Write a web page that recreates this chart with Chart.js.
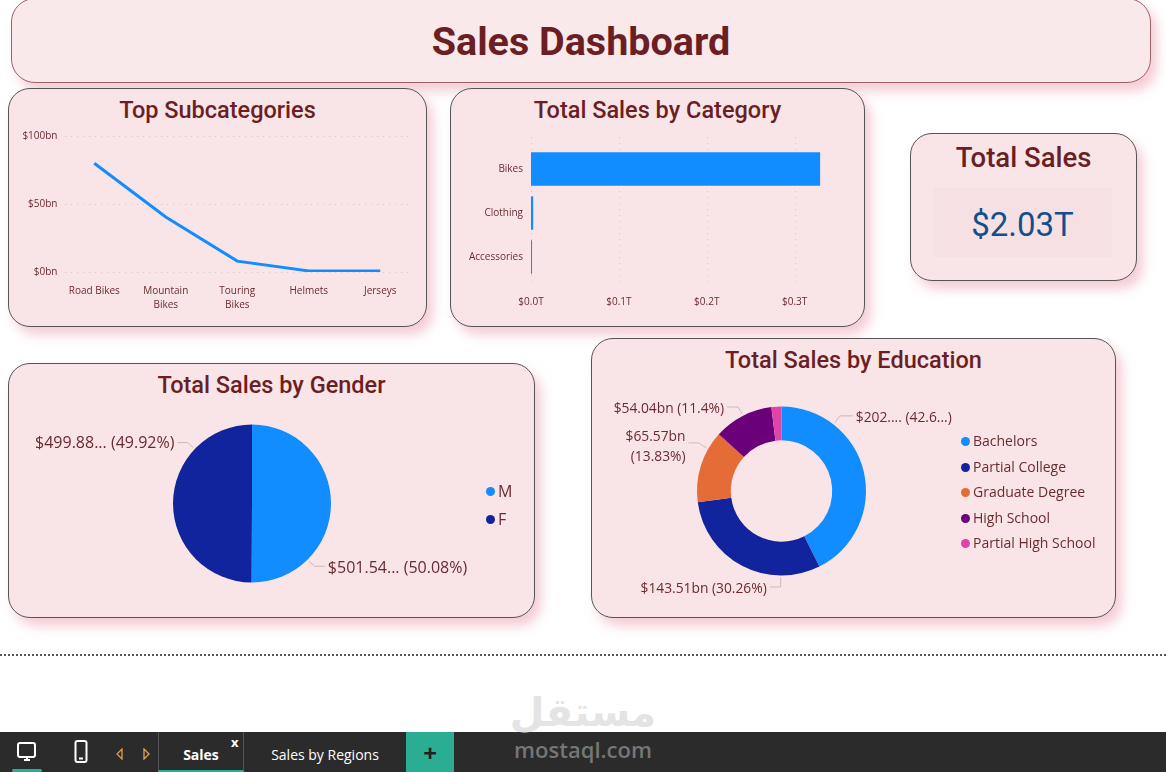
<!DOCTYPE html>
<html>
<head>
<meta charset="utf-8">
<title>Sales Dashboard</title>
<script src="https://cdn.jsdelivr.net/npm/chart.js@4"></script>
<style>
html, body { margin: 0; padding: 0; background: #fff; width: 1166px; height: 772px; overflow: hidden; }
body { position: relative; font-family: "Open Sans", sans-serif; }
.card { position: absolute; box-sizing: border-box; background: #F9E5E8; border: 1px solid #555; border-radius: 22px; box-shadow: 6px 8px 12px rgba(236, 170, 185, 0.6); }
.card-title { position: absolute; left: 0; right: 0; text-align: center; color: #6B1F24; font-family: Roboto, sans-serif; font-weight: 500; font-size: 23.500px; line-height: 30px; }
canvas { position: absolute; }
.legend-item { position: absolute; color: #6B2A30; line-height: 18px; white-space: nowrap; }
.legend-dot { position: absolute; width: 9px; height: 9px; border-radius: 50%; }
#kpi-box { position: absolute; left: 933px; top: 188px; width: 179px; height: 69px; background: #F7E0E4; }
#kpi-value { position: absolute; left: 933px; top: 188px; width: 179px; line-height: 74px; text-align: center; color: #12508C; font-family: Roboto, sans-serif; font-weight: 400; font-size: 33px; }
#dots { position: absolute; left: 0; top: 654px; width: 1166px; border-top: 2px dotted #555; }
#footer { position: absolute; left: 0; top: 732px; width: 1166px; height: 40px; background: #2B2B2B; color: #fff; font-size: 14px; }
.tab { position: absolute; top: 0; height: 40px; line-height: 45px; text-align: center; box-sizing: border-box; }
#mark { position: absolute; left: 495px; top: 688px; width: 176px; text-align: center; font-weight: 700; }
</style>
</head>
<body>

<div class="card" style="left:11px;top:-2px;width:1140px;height:85px;background:#FAE9EB;border-color:#A0606A;border-radius:24px;">
    <div style="position:absolute;left:0;right:0;top:20px;text-align:center;color:#6B1F24;font-family:Roboto,sans-serif;font-weight:700;font-size:39.500px;line-height:46px;">Sales Dashboard</div>
</div>

<div class="card" style="left:8px;top:88px;width:419px;height:239px;">
    <div class="card-title" style="top:6px;">Top Subcategories</div>
</div>
<canvas id="lineChart" width="419" height="210" style="left:8px;top:117px;"></canvas>

<div class="card" style="left:450px;top:88px;width:415px;height:239px;">
    <div class="card-title" style="top:6px;">Total Sales by Category</div>
</div>
<canvas id="barChart" width="415" height="210" style="left:450px;top:117px;"></canvas>

<div class="card" style="left:910px;top:133px;width:227px;height:148px;">
    <div class="card-title" style="top:9px;font-size:27.500px;">Total Sales</div>
</div>
<div id="kpi-box"></div>
<div id="kpi-value"></div>

<div class="card" style="left:8px;top:363px;width:527px;height:255px;">
    <div class="card-title" style="top:6px;">Total Sales by Gender</div>
</div>
<canvas id="genderChart" width="527" height="254" style="left:8px;top:363px;"></canvas>

<div class="card" style="left:591px;top:338px;width:525px;height:280px;">
    <div class="card-title" style="top:6px;">Total Sales by Education</div>
</div>
<canvas id="educationChart" width="524" height="279" style="left:591px;top:338px;"></canvas>

<div id="legends"></div>

<div id="dots"></div>

<div id="footer">
    <svg style="position:absolute;left:16px;top:9px;" width="22" height="22" viewBox="0 0 22 22" fill="none" stroke="#fff" stroke-width="2"><rect x="2" y="2" width="17" height="14" rx="2"/><path d="M8 19h6M11 16v3"/></svg>
    <div style="position:absolute;left:12px;top:37px;width:30px;height:3px;border-radius:2px;background:#2AAD93;"></div>
    <svg style="position:absolute;left:74px;top:8px;" width="14" height="24" viewBox="0 0 14 24" fill="none" stroke="#fff" stroke-width="2"><rect x="1.500" y="1" width="11" height="21" rx="2"/><path d="M5 18.500h4"/></svg>
    <svg style="position:absolute;left:115px;top:16px;" width="9" height="12" viewBox="0 0 9 12" fill="none" stroke="#E09A4A" stroke-width="1.300"><path d="M7 1v10L2 6z"/></svg>
    <svg style="position:absolute;left:142px;top:16px;" width="9" height="12" viewBox="0 0 9 12" fill="none" stroke="#E0A84A" stroke-width="1.300"><path d="M2 1v10l5-5z"/></svg>
    <div class="tab" style="left:158px;width:86px;font-weight:700;border-left:1px solid #555;border-right:1px solid #555;border-bottom:2px solid #2AAD93;">Sales</div>
    <div style="position:absolute;left:231px;top:2px;font-size:13px;font-weight:700;line-height:16px;">x</div>
    <div class="tab" style="left:244px;width:162px;">Sales by Regions</div>
    <div class="tab" style="left:406px;width:48px;background:#2AAD93;color:#222;font-size:24px;font-weight:700;line-height:42px;">+</div>
</div>

<div id="mark">
    <div style="font-family:'DejaVu Sans',sans-serif;font-size:40px;line-height:48px;color:#E4E4E4;">مستقل</div>
    <div style="font-size:22px;font-weight:600;line-height:26px;color:#767676;">mostaql.com</div>
</div>

<script>
// Top subcategories
const subcategories = [["Road Bikes"], ["Mountain", "Bikes"], ["Touring", "Bikes"], ["Helmets"], ["Jerseys"]];
const subcategorySales = [80, 40.400, 8, 0.800, 0.800];
const subcategoryTicks = [0, 50, 100];

// Category
const categories = ["Bikes", "Clothing", "Accessories"];
const categorySales = [0.329, 0.0025, 0.0012];
const categoryTicks = [0, 0.1, 0.2, 0.3];

// Gender
const genders = ["M", "F"];
const genderSales = [501.54, 499.88];
const genderLabels = [["$501.54... (50.08%)"], ["$499.88... (49.92%)"]];
const genderColors = ["#118DFF", "#12239E"];

// Education
const educationLevels = ["Bachelors", "Partial College", "Graduate Degree", "High School", "Partial High School"];
const educationSales = [202.0, 143.51, 65.57, 54.04, 9.06];
const educationLabels = [["$202.... (42.6...)"], ["$143.51bn (30.26%)"], ["$65.57bn", "(13.83%)"], ["$54.04bn (11.4%)"], []];
const educationColors = ["#118DFF", "#12239E", "#E66C37", "#6B007B", "#E044A7"];

const totalSales = "$2.03T";

const textColor = "#6B2A30";
const gridColor = "#D9C4C8";

Chart.defaults.font.family = '"Open Sans", sans-serif';
Chart.defaults.color = textColor;
Chart.defaults.animation = false;
Chart.defaults.responsive = false;

document.getElementById("kpi-value").textContent = totalSales;

// dotted gridlines that run a little past or short of the plot, like Power BI does
const dottedGrid = {
    id: "dottedGrid",
    beforeDatasetsDraw(chart, args, opts) {
        const ctx = chart.ctx;
        const scale = chart.scales[opts.axis];
        ctx.save();
        ctx.strokeStyle = gridColor;
        ctx.lineWidth = 1;
        ctx.setLineDash([1, 5]);
        scale.ticks.forEach(tick => {
            const p = Math.round(scale.getPixelForValue(tick.value)) + 0.5;
            ctx.beginPath();
            if (opts.axis === "y") {
                ctx.moveTo(chart.chartArea.left + opts.start, p);
                ctx.lineTo(chart.chartArea.right + opts.end, p);
            } else {
                ctx.moveTo(p, chart.chartArea.top + opts.start);
                ctx.lineTo(p, chart.chartArea.bottom + opts.end);
            }
            ctx.stroke();
        });
        ctx.restore();
    }
};

// slice labels with a short leader, placed from each arc's own geometry
const sliceLabels = {
    id: "sliceLabels",
    afterDatasetsDraw(chart, args, opts) {
        const ctx = chart.ctx;
        const arcs = chart.getDatasetMeta(0).data;
        ctx.save();
        ctx.font = opts.fontSize + 'px "Open Sans", sans-serif';
        ctx.fillStyle = textColor;
        ctx.strokeStyle = "#C9B9BC";
        ctx.lineWidth = 1;
        opts.labels.forEach((lines, i) => {
            if (!lines.length) return;
            const place = opts.places[i];
            const arc = arcs[i];
            const sx = arc.x + Math.cos(place.angle) * (arc.outerRadius + 2);
            const sy = arc.y + Math.sin(place.angle) * (arc.outerRadius + 2);
            ctx.beginPath();
            ctx.moveTo(sx, sy);
            ctx.lineTo(sx + place.bend[0], sy + place.bend[1]);
            ctx.lineTo(sx + place.end[0], sy + place.end[1]);
            ctx.stroke();
            const tx = sx + place.end[0] + (place.align === "left" ? 3 : -3);
            let ty = sy + place.end[1] + (place.textDy || 0);
            ctx.textAlign = place.align;
            ctx.textBaseline = "middle";
            lines.forEach(line => {
                ctx.fillText(line, tx, ty);
                ty += 20;
            });
        });
        ctx.restore();
    }
};

function fixedPadding(canvas, cx, cy, r) {
    return {
        left: cx - r,
        right: canvas.width - cx - r,
        top: cy - r,
        bottom: canvas.height - cy - r
    };
}

new Chart(document.getElementById("lineChart"), {
    type: "line",
    data: {
        labels: subcategories,
        datasets: [{
            data: subcategorySales,
            borderColor: "#118DFF",
            borderWidth: 3,
            pointRadius: 0,
            tension: 0
        }]
    },
    options: {
        layout: { padding: { left: 0, right: 11, top: 19, bottom: 0 } },
        plugins: {
            legend: { display: false },
            tooltip: { enabled: false },
            dottedGrid: { axis: "y", start: 6.500, end: -8 }
        },
        scales: {
            x: {
                offset: true,
                afterFit(scale) { scale.height = 55; },
                grid: { display: false, drawTicks: false },
                border: { display: false },
                ticks: { font: { size: 10, lineHeight: 1.4 }, maxRotation: 0, autoSkip: false, padding: 12, color: textColor }
            },
            y: {
                min: 0,
                max: 100,
                afterFit(scale) { scale.width = 50.500; },
                afterBuildTicks(scale) { scale.ticks = subcategoryTicks.map(v => ({ value: v })); },
                grid: { display: false, drawTicks: false },
                border: { display: false },
                ticks: { font: { size: 10 }, padding: 1, callback: v => "$" + v + "bn" }
            }
        }
    },
    plugins: [dottedGrid]
});

new Chart(document.getElementById("barChart"), {
    type: "bar",
    data: {
        labels: categories,
        datasets: [{
            data: categorySales,
            backgroundColor: "#118DFF",
            categoryPercentage: 0.76,
            barPercentage: 1
        }]
    },
    options: {
        indexAxis: "y",
        layout: { padding: { left: 0, right: 44, top: 30, bottom: 0 } },
        plugins: {
            legend: { display: false },
            tooltip: { enabled: false },
            dottedGrid: { axis: "x", start: -10, end: 5 }
        },
        scales: {
            x: {
                min: 0,
                max: 0.33,
                afterBuildTicks(scale) { scale.ticks = categoryTicks.map(v => ({ value: v })); },
                afterFit(scale) { scale.height = 48; },
                grid: { display: false, drawTicks: false },
                border: { display: false },
                ticks: { font: { size: 10 }, padding: 17, callback: v => "$" + v.toFixed(1) + "T" }
            },
            y: {
                afterFit(scale) { scale.width = 81; },
                grid: { display: false, drawTicks: false },
                border: { display: false },
                ticks: { font: { size: 10 }, padding: 8, autoSkip: false, color: textColor }
            }
        }
    },
    plugins: [dottedGrid]
});

const genderCanvas = document.getElementById("genderChart");
new Chart(genderCanvas, {
    type: "pie",
    data: {
        labels: genders,
        datasets: [{ data: genderSales, backgroundColor: genderColors, borderWidth: 0 }]
    },
    options: {
        layout: { padding: fixedPadding(genderCanvas, 244, 140.500, 79) },
        plugins: {
            legend: { display: false },
            tooltip: { enabled: false },
            sliceLabels: {
                fontSize: 16,
                labels: genderLabels,
                places: [
                    { angle: 0.793, bend: [6, 5], end: [16, 5], align: "left", textDy: 2 },
                    { angle: -2.38, bend: [-6, -5], end: [-16, -5], align: "right", textDy: 1 }
                ]
            }
        }
    },
    plugins: [sliceLabels]
});

const educationCanvas = document.getElementById("educationChart");
new Chart(educationCanvas, {
    type: "doughnut",
    data: {
        labels: educationLevels,
        datasets: [{ data: educationSales, backgroundColor: educationColors, borderWidth: 0 }]
    },
    options: {
        cutout: "60%",
        layout: { padding: fixedPadding(educationCanvas, 190.500, 153, 84.500) },
        plugins: {
            legend: { display: false },
            tooltip: { enabled: false },
            sliceLabels: {
                fontSize: 13.800,
                labels: educationLabels,
                places: [
                    { angle: -0.907, bend: [5, -7], end: [18, -7], align: "left", textDy: 2 },
                    { angle: 1.58, bend: [0, 9.500], end: [-11, 9.500], align: "right", textDy: 2 },
                    { angle: -2.62, bend: [-8, -5], end: [-18, -5], align: "right", textDy: -6 },
                    { angle: -2.044, bend: [-4, -7], end: [-15, -7], align: "right", textDy: 2 },
                    { angle: 0, bend: [0, 0], end: [0, 0], align: "left" }
                ]
            }
        }
    },
    plugins: [sliceLabels]
});

// html legends, one row per slice
function buildLegend(names, colors, left, tops, fontSize) {
    const holder = document.getElementById("legends");
    names.forEach((name, i) => {
        const dot = document.createElement("div");
        dot.className = "legend-dot";
        dot.style.cssText = "left:" + left + "px;top:" + (tops[i] - 4.500) + "px;background:" + colors[i];
        holder.appendChild(dot);
        const text = document.createElement("div");
        text.className = "legend-item";
        text.style.cssText = "left:" + (left + 12) + "px;top:" + (tops[i] - 9) + "px;font-size:" + fontSize + "px";
        text.textContent = name;
        holder.appendChild(text);
    });
}
buildLegend(genders, genderColors, 486, [491, 519], 16);
buildLegend(educationLevels, educationColors, 961, [441, 467, 492, 518, 543], 14);
</script>
</body>
</html>
